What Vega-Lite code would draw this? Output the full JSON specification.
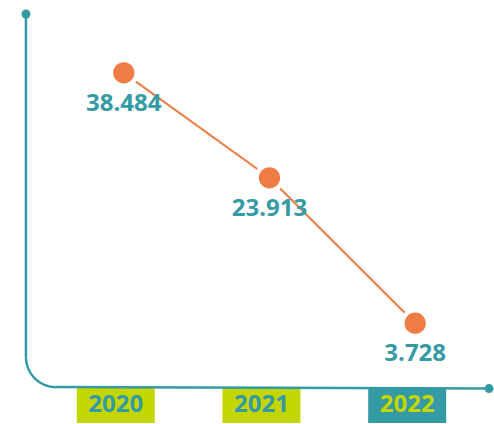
{
  "$schema": "https://vega.github.io/schema/vega-lite/v6.json",
  "width": 494,
  "height": 424,
  "autosize": {"type": "fit", "contains": "padding"},
  "padding": 0,
  "background": "white",
  "config": {"view": {"stroke": null}},
  "data": {"values": [
    {"year": 2020, "value": 38.484, "label": "38.484"},
    {"year": 2021, "value": 23.913, "label": "23.913"},
    {"year": 2022, "value": 3.728, "label": "3.728"}
  ]},
  "encoding": {
    "x": {"field": "year", "type": "quantitative", "scale": {"domain": [2019.1507, 2022.534], "nice": false, "zero": false}, "axis": null},
    "y": {"field": "value", "type": "quantitative", "scale": {"domain": [-10.119, 48.592], "nice": false, "zero": false}, "axis": null}
  },
  "layer": [
    {
      "mark": {"type": "rect", "width": 78, "height": 35, "xOffset": -8},
      "encoding": {
        "y": {"datum": -7.696},
        "fill": {"condition": {"test": "datum.year == 2022", "value": "#349aa3"}, "value": "#c4d600"}
      }
    },
    {
      "mark": {"type": "text", "font": "Open Sans", "fontSize": 24, "fontWeight": "bold", "baseline": "alphabetic", "align": "center", "dx": -8},
      "encoding": {
        "y": {"datum": -8.6},
        "text": {"field": "year", "type": "nominal"},
        "fill": {"condition": {"test": "datum.year == 2022", "value": "#c4d600"}, "value": "#349aa3"}
      }
    },
    {
      "transform": [{"filter": "datum.year == 2020"}],
      "mark": {"type": "rule", "color": "#349aa3", "strokeWidth": 2.5},
      "encoding": {
        "x": {"datum": 2019.3288},
        "y": {"datum": 46.653},
        "y2": {"datum": -0.98}
      }
    },
    {
      "transform": [{"filter": "datum.year == 2020"}],
      "mark": {"type": "rule", "color": "#349aa3", "strokeWidth": 2.5},
      "encoding": {
        "x": {"datum": 2019.5343},
        "x2": {"datum": 2022.5069},
        "y": {"datum": -5.134},
        "y2": {"datum": -5.342}
      }
    },
    {
      "transform": [{"filter": "datum.year == 2020"}],
      "mark": {"type": "arc", "radius": 31.25, "radius2": 28.75, "theta": 3.14159, "theta2": 4.71239, "fill": "#349aa3"},
      "encoding": {
        "x": {"datum": 2019.5343},
        "y": {"datum": -0.98}
      }
    },
    {
      "transform": [{"filter": "datum.year == 2020"}],
      "mark": {"type": "point", "filled": true, "size": 80, "color": "#349aa3", "opacity": 1},
      "encoding": {
        "x": {"datum": 2019.3288},
        "y": {"datum": 46.653}
      }
    },
    {
      "transform": [{"filter": "datum.year == 2020"}],
      "mark": {"type": "point", "filled": true, "size": 80, "color": "#349aa3", "opacity": 1},
      "encoding": {
        "x": {"datum": 2022.5069},
        "y": {"datum": -5.342}
      }
    },
    {
      "mark": {"type": "line", "color": "#ef7b45", "strokeWidth": 2}
    },
    {
      "mark": {"type": "point", "filled": true, "size": 900, "color": "white", "opacity": 1}
    },
    {
      "mark": {"type": "point", "filled": true, "size": 452, "color": "#ef7b45", "opacity": 1}
    },
    {
      "mark": {"type": "text", "font": "Open Sans", "fontSize": 24, "fontWeight": "bold", "baseline": "alphabetic", "align": "center", "dy": 38, "fill": "#349aa3"},
      "encoding": {"text": {"field": "label", "type": "nominal"}}
    }
  ]
}
